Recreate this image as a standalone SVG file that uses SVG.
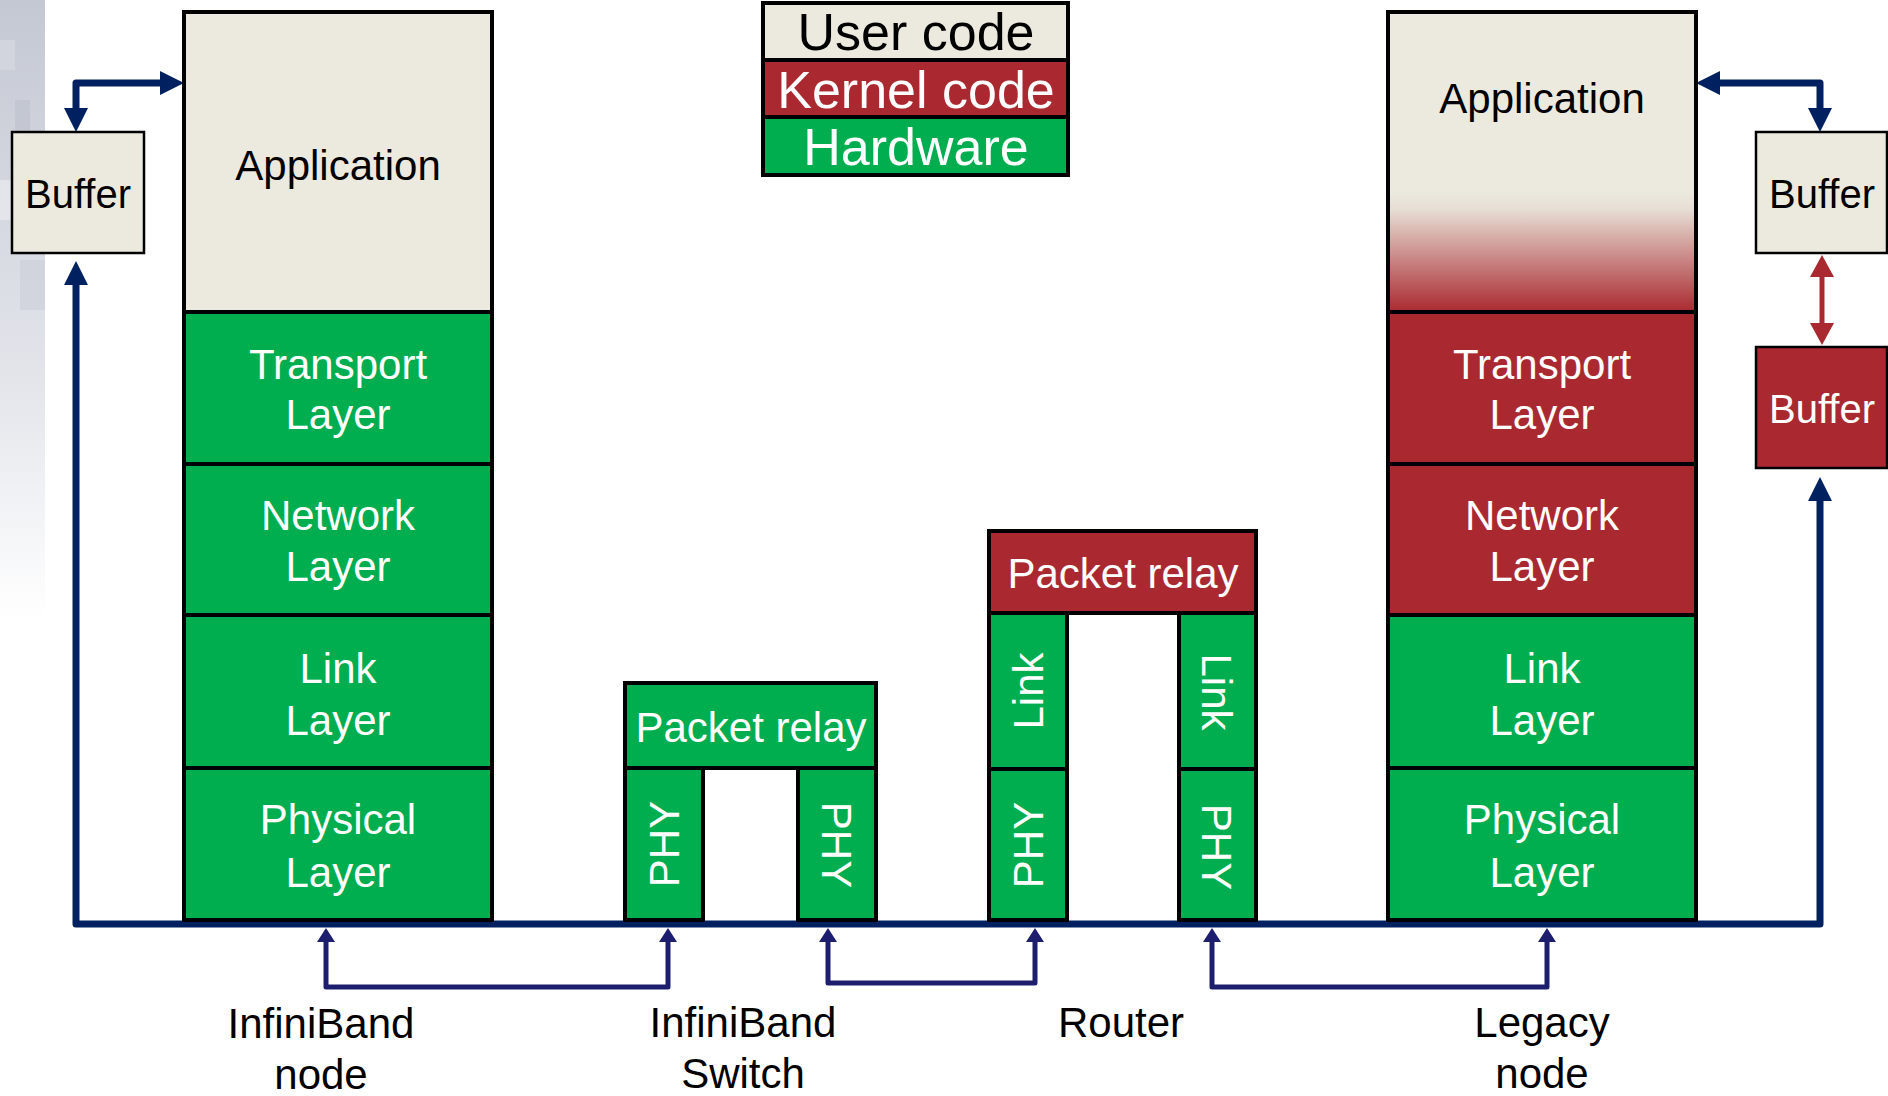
<svg xmlns="http://www.w3.org/2000/svg" width="1888" height="1096" viewBox="0 0 1888 1096">
<style>
text{font-family:"Liberation Sans",Arial,sans-serif;text-anchor:middle}
.t42{font-size:42px}
.t40{font-size:40px}
.t52{font-size:52px}
.w{fill:#ffffff}
.k{fill:#000000}
.beige{fill:#ECEADF;stroke:#000;stroke-width:4}
.green{fill:#00AD4F;stroke:#000;stroke-width:4}
.red{fill:#AA2930;stroke:#000;stroke-width:4}
.buf{fill:#ECEADF;stroke:#000;stroke-width:2.5}
.bufr{fill:#AA2930;stroke:#000;stroke-width:2.5}
.bus{fill:none;stroke:#00205F;stroke-width:7;stroke-linejoin:round}
.low{fill:none;stroke:#1E1E6E;stroke-width:5;stroke-linejoin:round}
.redarr{fill:none;stroke:#AA2930;stroke-width:5}
</style>
<defs>
<marker id="aBig" viewBox="0 0 24 24" refX="0" refY="12" markerWidth="24" markerHeight="24" markerUnits="userSpaceOnUse" orient="auto-start-reverse"><path d="M0,0 L24,12 L0,24 z" fill="#00205F"/></marker>
<marker id="aSmall" viewBox="0 0 14 18" refX="0" refY="9" markerWidth="14" markerHeight="18" markerUnits="userSpaceOnUse" orient="auto-start-reverse"><path d="M0,0 L14,9 L0,18 z" fill="#1E1E6E"/></marker>
<marker id="aRed" viewBox="0 0 22 24" refX="0" refY="12" markerWidth="22" markerHeight="24" markerUnits="userSpaceOnUse" orient="auto-start-reverse"><path d="M0,0 L22,12 L0,24 z" fill="#AA2930"/></marker>
<linearGradient id="fade" x1="0" y1="0" x2="0" y2="1"><stop offset="0" stop-color="#ECEADF"/><stop offset="0.15" stop-color="#E6DDD3"/><stop offset="1" stop-color="#AA2930"/></linearGradient>
<linearGradient id="bg" x1="0" y1="0" x2="0" y2="1"><stop offset="0" stop-color="#C4C8D3"/><stop offset="0.6" stop-color="#E2E4EA"/><stop offset="1" stop-color="#FFFFFF"/></linearGradient>
</defs>
<rect width="1888" height="1096" fill="#ffffff"/>
<g id="background">
<rect x="0" y="0" width="45" height="620" fill="url(#bg)"/>
<rect x="0" y="40" width="15" height="30" fill="#D6D9E1" opacity="0.7"/>
<rect x="15" y="100" width="15" height="40" fill="#B9BDC9" opacity="0.5"/>
<rect x="0" y="180" width="20" height="40" fill="#ECEEF2" opacity="0.6"/>
<rect x="20" y="260" width="25" height="50" fill="#C9CCD6" opacity="0.5"/>
</g>
<g id="legend">
<rect x="763" y="3" width="305" height="57" class="beige" stroke-width="3"/>
<rect x="763" y="60" width="305" height="57" class="red" stroke-width="3"/>
<rect x="763" y="117" width="305" height="58" class="green" stroke-width="3"/>
<rect x="763" y="3" width="305" height="172" fill="none" stroke="#000" stroke-width="4"/>
<text x="916" y="50" class="t52 k">User code</text>
<text x="916" y="108" class="t52 w">Kernel code</text>
<text x="916" y="165" class="t52 w">Hardware</text>
</g>
<g id="connectors">
<path class="bus" d="M76,285 V924 H1820 V501" marker-start="url(#aBig)" marker-end="url(#aBig)"/>
<path class="bus" d="M76,108 V83 H160" marker-start="url(#aBig)" marker-end="url(#aBig)"/>
<path class="bus" d="M1720,83 H1820 V108" marker-start="url(#aBig)" marker-end="url(#aBig)"/>
<path class="redarr" d="M1822,277 V323" marker-start="url(#aRed)" marker-end="url(#aRed)"/>
<path class="low" d="M326,942 V987 H668 V942" marker-start="url(#aSmall)" marker-end="url(#aSmall)"/>
<path class="low" d="M828,942 V983 H1035 V942" marker-start="url(#aSmall)" marker-end="url(#aSmall)"/>
<path class="low" d="M1212,942 V987 H1547 V942" marker-start="url(#aSmall)" marker-end="url(#aSmall)"/>
</g>
<g id="buffer-left">
<rect x="12" y="132" width="132" height="121" class="buf"/>
<text x="78" y="208" class="t40 k">Buffer</text>
</g>
<g id="infiniband-node">
<rect x="184" y="12" width="308" height="300" class="beige"/>
<text x="338" y="180" class="t42 k">Application</text>
<rect x="184" y="312" width="308" height="152" class="green"/>
<text x="338" y="379" class="t42 w">Transport</text>
<text x="338" y="429" class="t42 w">Layer</text>
<rect x="184" y="464" width="308" height="151" class="green"/>
<text x="338" y="530" class="t42 w">Network</text>
<text x="338" y="581" class="t42 w">Layer</text>
<rect x="184" y="615" width="308" height="153" class="green"/>
<text x="338" y="683" class="t42 w">Link</text>
<text x="338" y="735" class="t42 w">Layer</text>
<rect x="184" y="768" width="308" height="152" class="green"/>
<text x="338" y="834" class="t42 w">Physical</text>
<text x="338" y="887" class="t42 w">Layer</text>
</g>
<g id="infiniband-switch">
<rect x="625" y="683" width="251" height="85" class="green"/>
<text x="751" y="742" class="t42 w">Packet relay</text>
<rect x="625" y="768" width="78" height="152" class="green"/>
<text class="t42 w" transform="translate(664,844) rotate(-90)" x="0" y="15">PHY</text>
<rect x="798" y="768" width="78" height="152" class="green"/>
<text class="t42 w" transform="translate(837,845) rotate(90)" x="0" y="15">PHY</text>
</g>
<g id="router">
<rect x="989" y="531" width="267" height="82" class="red"/>
<text x="1123" y="588" class="t42 w">Packet relay</text>
<rect x="989" y="613" width="78" height="156" class="green"/>
<text class="t42 w" transform="translate(1028,691) rotate(-90)" x="0" y="15">Link</text>
<rect x="989" y="769" width="78" height="151" class="green"/>
<text class="t42 w" transform="translate(1028,845) rotate(-90)" x="0" y="15">PHY</text>
<rect x="1179" y="613" width="77" height="156" class="green"/>
<text class="t42 w" transform="translate(1217,692) rotate(90)" x="0" y="15">Link</text>
<rect x="1179" y="769" width="77" height="151" class="green"/>
<text class="t42 w" transform="translate(1217,847) rotate(90)" x="0" y="15">PHY</text>
</g>
<g id="legacy-node">
<rect x="1388" y="12" width="308" height="300" fill="#ECEADF"/>
<rect x="1388" y="192" width="308" height="120" fill="url(#fade)"/>
<rect x="1388" y="12" width="308" height="300" fill="none" stroke="#000" stroke-width="4"/>
<text x="1542" y="113" class="t42 k">Application</text>
<rect x="1388" y="312" width="308" height="152" class="red"/>
<text x="1542" y="379" class="t42 w">Transport</text>
<text x="1542" y="429" class="t42 w">Layer</text>
<rect x="1388" y="464" width="308" height="151" class="red"/>
<text x="1542" y="530" class="t42 w">Network</text>
<text x="1542" y="581" class="t42 w">Layer</text>
<rect x="1388" y="615" width="308" height="153" class="green"/>
<text x="1542" y="683" class="t42 w">Link</text>
<text x="1542" y="735" class="t42 w">Layer</text>
<rect x="1388" y="768" width="308" height="152" class="green"/>
<text x="1542" y="834" class="t42 w">Physical</text>
<text x="1542" y="887" class="t42 w">Layer</text>
</g>
<g id="buffer-right-user">
<rect x="1756" y="132" width="131" height="121" class="buf"/>
<text x="1822" y="208" class="t40 k">Buffer</text>
</g>
<g id="buffer-right-kernel">
<rect x="1756" y="347" width="131" height="121" class="bufr"/>
<text x="1822" y="423" class="t40 w">Buffer</text>
</g>
<g id="labels">
<text x="321" y="1038" class="t42 k">InfiniBand</text>
<text x="321" y="1089" class="t42 k">node</text>
<text x="743" y="1037" class="t42 k">InfiniBand</text>
<text x="743" y="1088" class="t42 k">Switch</text>
<text x="1121" y="1037" class="t42 k">Router</text>
<text x="1542" y="1037" class="t42 k">Legacy</text>
<text x="1542" y="1088" class="t42 k">node</text>
</g>
</svg>
